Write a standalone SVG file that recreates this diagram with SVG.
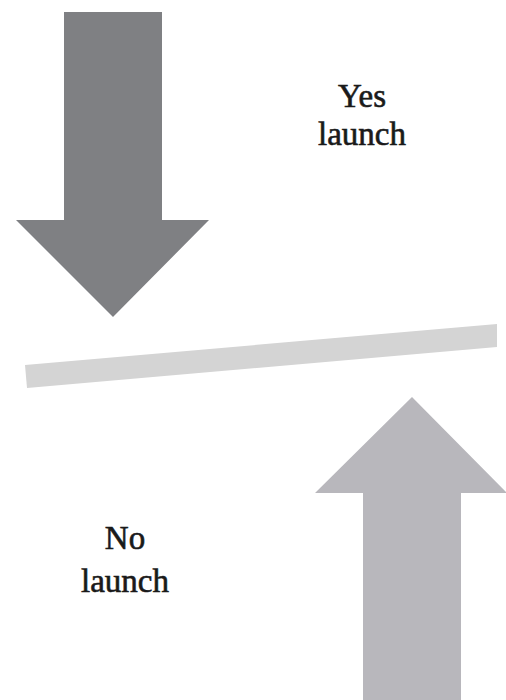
<svg xmlns="http://www.w3.org/2000/svg" width="506" height="700" viewBox="0 0 506 700">
<style>
.lbl{font-family:"Liberation Serif","Times New Roman",serif;font-size:33px;fill:#1a1a1a;stroke:#1a1a1a;stroke-width:0.6px;text-anchor:middle}
</style>
<rect width="506" height="700" fill="#ffffff"/>
<g id="yes-arrow">
<polygon points="64,12 162,12 162,220 209,220 113,317 16,220 64,220" fill="#7f8083"/>
</g>
<g id="balance-bar">
<polygon points="25,365 497,324 497,347 27,388" fill="#d4d4d4"/>
</g>
<g id="no-arrow">
<polygon points="412,397 507,493 461,493 461,700 363,700 363,493 315,493" fill="#b8b7bc"/>
</g>
<g id="yes-label">
<text class="lbl" x="362" y="107">Yes</text>
<text class="lbl" x="362" y="145">launch</text>
</g>
<g id="no-label">
<text class="lbl" x="125" y="549">No</text>
<text class="lbl" x="125" y="592">launch</text>
</g>
<g id="connectors"></g>
</svg>
